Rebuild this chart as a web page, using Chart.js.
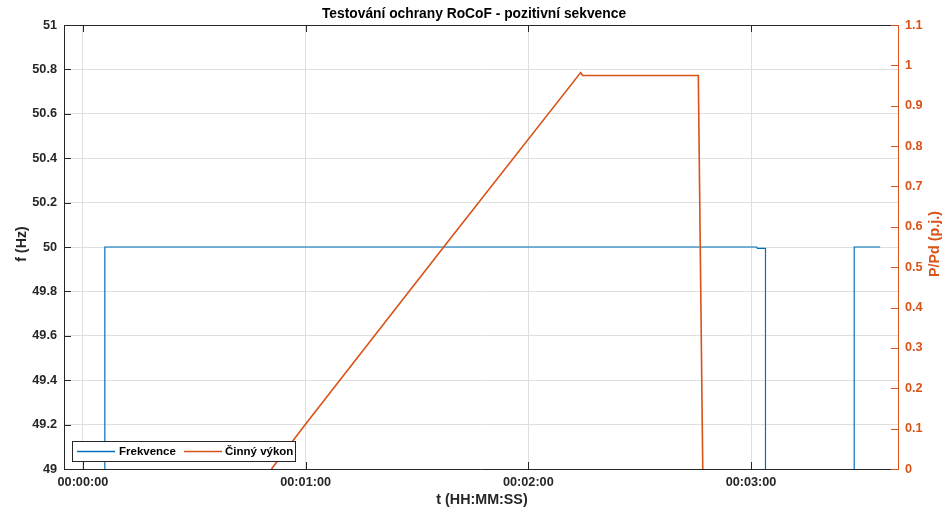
<!DOCTYPE html>
<html>
<head>
<meta charset="utf-8">
<script src="https://cdn.jsdelivr.net/npm/chart.js@4.4.1/dist/chart.umd.min.js"></script>
<style>
  html, body { margin: 0; padding: 0; background: #ffffff; }
  #wrap { width: 950px; height: 513px; position: relative; }
</style>
</head>
<body>
<div id="wrap"><canvas id="c"></canvas></div>
<script>
// ---------- data ----------
const CHART_TITLE = 'Testování ochrany RoCoF - pozitivní sekvence';
const X_TITLE = 't (HH:MM:SS)';
const Y_LEFT_TITLE = 'f (Hz)';
const Y_RIGHT_TITLE = 'P/Pd (p.j.)';

const SERIES_NAMES = ['Frekvence', 'Činný výkon'];

// time in seconds
const X_TICKS = [0, 60, 120, 180];
const X_TICK_LABELS = ['00:00:00', '00:01:00', '00:02:00', '00:03:00'];
const Y_LEFT_TICKS = [49, 49.2, 49.4, 49.6, 49.8, 50, 50.2, 50.4, 50.6, 50.8, 51];
const Y_LEFT_TICK_LABELS = ['49', '49.2', '49.4', '49.6', '49.8', '50', '50.2', '50.4', '50.6', '50.8', '51'];
const Y_RIGHT_TICKS = [0, 0.1, 0.2, 0.3, 0.4, 0.5, 0.6, 0.7, 0.8, 0.9, 1, 1.1];
const Y_RIGHT_TICK_LABELS = ['0', '0.1', '0.2', '0.3', '0.4', '0.5', '0.6', '0.7', '0.8', '0.9', '1', '1.1'];

// Frekvence (Hz)
const FREQ_TIME  = [5.9, 5.9, 181.5, 181.7, 183.9, 183.9, 195, 207.8, 207.8, 214.8];
const FREQ_VALUE = [49,  50,  50,    49.994, 49.994, 49,  null, 49,   50,    50];

// Činný výkon (p.j.)
const POWER_TIME  = [50.8, 59.8, 97.1, 134.1, 134.6, 165.8, 167.0];
const POWER_VALUE = [0,    0.109, 0.549, 0.982, 0.975, 0.975, 0];

const X_MIN = -5.1, X_MAX = 219.6;

// ---------- style ----------
const BLUE = '#0072BD';
const ORANGE = '#D95319';
const AXIS_DARK = '#262626';
const GRID = '#dfdfdf';
const FONT_FAMILY = '"Liberation Sans", Arial, Helvetica, sans-serif';

const freqPoints = FREQ_TIME.map((t, i) => ({ x: t, y: FREQ_VALUE[i] }));
const powerPoints = POWER_TIME.map((t, i) => ({ x: t, y: POWER_VALUE[i] }));

const decorPlugin = {
  id: 'decor',
  afterDatasetsDraw(chart) {
    const ctx = chart.ctx;
    const a = chart.chartArea;
    const sx = chart.scales.x, sl = chart.scales.yL, sr = chart.scales.yR;
    ctx.save();
    // top border
    ctx.strokeStyle = AXIS_DARK;
    ctx.lineWidth = 1;
    ctx.beginPath();
    ctx.moveTo(a.left, a.top + 0.5);
    ctx.lineTo(a.right, a.top + 0.5);
    ctx.stroke();
    // inward ticks x (bottom & top)
    const TL = 7;
    X_TICKS.forEach(v => {
      const px = Math.round(sx.getPixelForValue(v)) + 0.5;
      ctx.beginPath();
      ctx.moveTo(px, a.bottom); ctx.lineTo(px, a.bottom - TL);
      ctx.moveTo(px, a.top); ctx.lineTo(px, a.top + TL);
      ctx.stroke();
    });
    // left ticks
    Y_LEFT_TICKS.forEach(v => {
      const py = Math.round(sl.getPixelForValue(v)) + 0.5;
      ctx.beginPath();
      ctx.moveTo(a.left, py); ctx.lineTo(a.left + TL, py);
      ctx.stroke();
    });
    // right ticks
    ctx.strokeStyle = ORANGE;
    Y_RIGHT_TICKS.forEach(v => {
      const py = Math.round(sr.getPixelForValue(v)) + 0.5;
      ctx.beginPath();
      ctx.moveTo(a.right, py); ctx.lineTo(a.right - TL, py);
      ctx.stroke();
    });

    // titles
    ctx.fillStyle = '#000000';
    ctx.font = 'bold 13.8px ' + FONT_FAMILY;
    ctx.textAlign = 'center';
    ctx.textBaseline = 'middle';
    ctx.fillText(CHART_TITLE, 474, 14);
    ctx.font = 'bold 14.3px ' + FONT_FAMILY;
    ctx.fillStyle = AXIS_DARK;
    ctx.fillText(X_TITLE, 482, 500);
    ctx.save();
    ctx.translate(22, 244);
    ctx.rotate(-Math.PI / 2);
    ctx.fillText(Y_LEFT_TITLE, 0, 0);
    ctx.restore();
    ctx.save();
    ctx.fillStyle = ORANGE;
    ctx.translate(935, 244);
    ctx.rotate(-Math.PI / 2);
    ctx.fillText(Y_RIGHT_TITLE, 0, 0);
    ctx.restore();

    // legend box inside plot (bottom-left)
    const bx = 72.5, by = 441.5, bw = 223, bh = 20;
    ctx.fillStyle = '#ffffff';
    ctx.fillRect(bx, by, bw, bh);
    ctx.strokeStyle = AXIS_DARK;
    ctx.lineWidth = 1;
    ctx.strokeRect(bx, by, bw, bh);
    const cy = by + bh / 2;
    ctx.font = 'bold 11.5px ' + FONT_FAMILY;
    ctx.textAlign = 'left';
    ctx.textBaseline = 'middle';
    const items = chart.data.datasets;
    const xs = [[77, 115, 119], [184, 222, 225]];
    items.forEach((ds, i) => {
      ctx.strokeStyle = ds.borderColor;
      ctx.lineWidth = 1.5;
      ctx.beginPath();
      ctx.moveTo(xs[i][0], cy); ctx.lineTo(xs[i][1], cy);
      ctx.stroke();
      ctx.fillStyle = '#000000';
      ctx.fillText(ds.label, xs[i][2], cy + 0.5);
    });
    ctx.restore();
  }
};

const TICK_FONT = { family: FONT_FAMILY, size: 12.7, weight: 'bold' };

new Chart(document.getElementById('c'), {
  type: 'line',
  data: {
    datasets: [
      {
        label: SERIES_NAMES[0],
        data: freqPoints,
        yAxisID: 'yL',
        borderColor: BLUE,
        borderWidth: 1.2,
        pointRadius: 0,
        tension: 0,
        spanGaps: false,
        order: 1
      },
      {
        label: SERIES_NAMES[1],
        data: powerPoints,
        yAxisID: 'yR',
        borderColor: ORANGE,
        borderWidth: 1.6,
        pointRadius: 0,
        tension: 0,
        order: 0
      }
    ]
  },
  plugins: [decorPlugin],
  options: {
    responsive: true,
    maintainAspectRatio: false,
    animation: false,
    layout: { padding: { top: 25, left: 0, right: 0, bottom: 0 } },
    plugins: {
      legend: { display: false },
      title: { display: false },
      tooltip: { enabled: false }
    },
    scales: {
      x: {
        type: 'linear',
        position: 'bottom',
        min: X_MIN,
        max: X_MAX,
        afterBuildTicks: s => { s.ticks = X_TICKS.map(v => ({ value: v })); },
        afterFit: s => { s.height = 44; },
        ticks: {
          callback: (v) => X_TICK_LABELS[X_TICKS.indexOf(v)],
          font: TICK_FONT,
          color: AXIS_DARK,
          padding: 6,
          maxRotation: 0,
          autoSkip: false
        },
        grid: { color: GRID, drawTicks: false, lineWidth: 1 },
        border: { display: true, color: AXIS_DARK, width: 1 }
      },
      yL: {
        type: 'linear',
        position: 'left',
        min: 49,
        max: 51,
        afterBuildTicks: s => { s.ticks = Y_LEFT_TICKS.map(v => ({ value: v })); },
        afterFit: s => { s.width = 64; },
        ticks: {
          callback: (v) => Y_LEFT_TICK_LABELS[Y_LEFT_TICKS.indexOf(v)],
          font: TICK_FONT,
          color: AXIS_DARK,
          padding: 7,
          autoSkip: false
        },
        grid: { color: GRID, drawTicks: false, lineWidth: 1 },
        border: { display: true, color: AXIS_DARK, width: 1 }
      },
      yR: {
        type: 'linear',
        position: 'right',
        min: 0,
        max: 1.1,
        afterBuildTicks: s => { s.ticks = Y_RIGHT_TICKS.map(v => ({ value: v })); },
        afterFit: s => { s.width = 52; },
        ticks: {
          callback: (v) => Y_RIGHT_TICK_LABELS[Y_RIGHT_TICKS.indexOf(v)],
          font: TICK_FONT,
          color: ORANGE,
          padding: 7,
          autoSkip: false
        },
        grid: { display: false, drawTicks: false },
        border: { display: true, color: ORANGE, width: 1 }
      }
    }
  }
});
</script>
</body>
</html>
